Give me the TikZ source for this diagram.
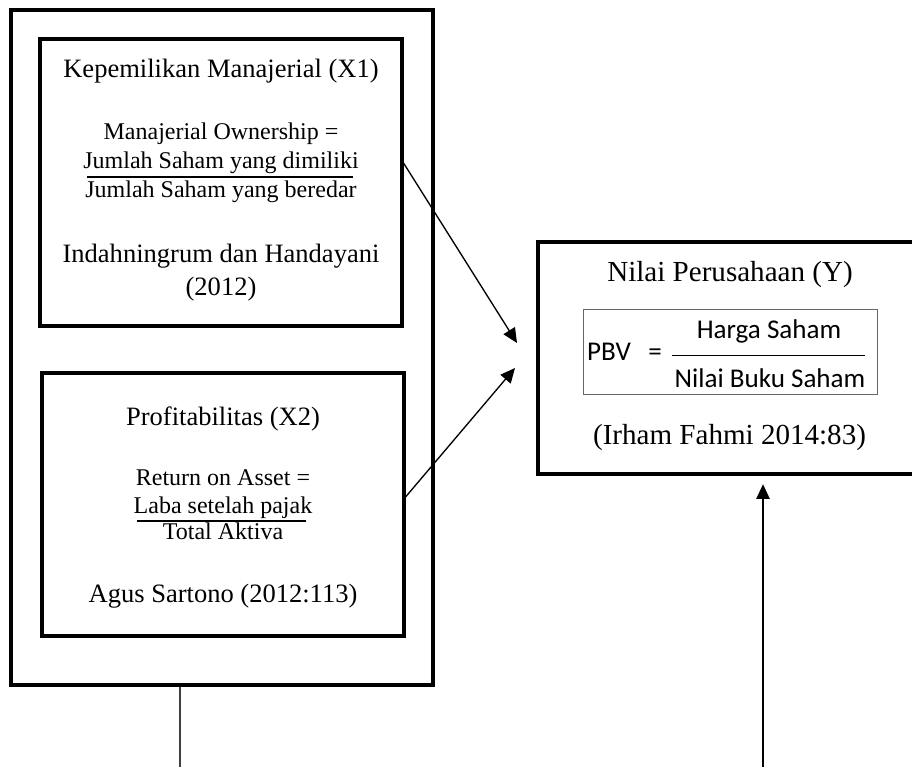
\documentclass[tikz,border=0pt]{standalone}
\usepackage{fontspec}
\setmainfont{Liberation Serif}
\newfontfamily\calibri{Carlito}
\usetikzlibrary{fit,arrows.meta}
\begin{document}
\begin{tikzpicture}[x=0.75pt,y=-0.75pt,
  box/.style={draw, line width=2.3pt, inner sep=0pt},
  thinbox/.style={draw=black!60, line width=0.7pt, inner sep=0pt},
  hd/.style={anchor=base, inner sep=0pt, font=\fontsize{19.9}{24}\selectfont},
  fm/.style={anchor=base, inner sep=0pt, font=\fontsize{18}{22}\selectfont},
  rt/.style={anchor=base, inner sep=0pt, font=\fontsize{21.8}{26}\selectfont},
  cb/.style={anchor=base, inner sep=0pt, font=\calibri\fontsize{20.3}{24}\selectfont},
  arr/.style={draw, line width=1pt, -{Triangle[length=11pt,width=10pt]}},
  fbar/.style={line width=0.8pt},
  plain/.style={line width=1.1pt, draw=black!75}]

\useasboundingbox (0,0) rectangle (912,767);
\clip (0,0) rectangle (912,767);
\fill[white] (0,0) rectangle (912,767);

% left group
\node[box, fit={(11,10) (433,685)}] (outer) {};
\node[box, fit={(40,39) (402,326)}] (box1) {};
\node[box, fit={(42,373) (404,636)}] (box2) {};

\node[hd] (k1) at (221,77) {Kepemilikan Manajerial (X1)};
\node[fm] (f1) at (221,139) {Manajerial Ownership =};
\node[fm] (n1) at (221,168) {Jumlah Saham yang dimiliki};
\draw[fbar] (87,177) -- (353,177);
\node[fm] (d1) at (221,197) {Jumlah Saham yang beredar};
\node[hd] (a1) at (221,262) {Indahningrum dan Handayani};
\node[hd] (a1b) at (221,295) {(2012)};

\node[hd] (k2) at (223,425) {Profitabilitas (X2)};
\node[fm] (f2) at (223,485) {Return on Asset =};
\node[fm] (n2) at (223,513) {Laba setelah pajak};
\draw[fbar] (137,521) -- (306,521);
\node[fm] (d2) at (223,539) {Total Aktiva};
\node[hd] (a2) at (223,602) {Agus Sartono (2012:113)};

% right box
\node[box, fit={(538,242) (940,474)}] (rbox) {};
\node[rt] (yt) at (730,281) {Nilai Perusahaan (Y)};
\node[thinbox, fit={(583,309) (877,394)}] (pbvbox) {};
\node[cb] (pbv) at (609,360) {PBV};
\node[cb] (eq) at (655,360) {=};
\node[cb] (hs) at (769,338) {Harga Saham};
\draw[line width=0.6pt] (672,355) -- (865,355);
\node[cb] (nb) at (770,387) {Nilai Buku Saham};
\node[rt] (src) at (729.5,444) {(Irham Fahmi 2014:83)};

% connectors
\coordinate (s1) at (0,163);
\coordinate (t1) at (517,343);
\draw[arr] (box1.east |- s1) -- (t1);
\coordinate (s2) at (0,497);
\coordinate (t2) at (515,368);
\draw[arr] (box2.east |- s2) -- (t2);

\coordinate (lb) at (180,767);
\draw[plain] (outer.south -| lb) -- (lb);
\coordinate (rb) at (763,767);
\draw[arr, shorten >=6.5pt] (rb) -- (rbox.south -| rb);
\end{tikzpicture}
\end{document}
